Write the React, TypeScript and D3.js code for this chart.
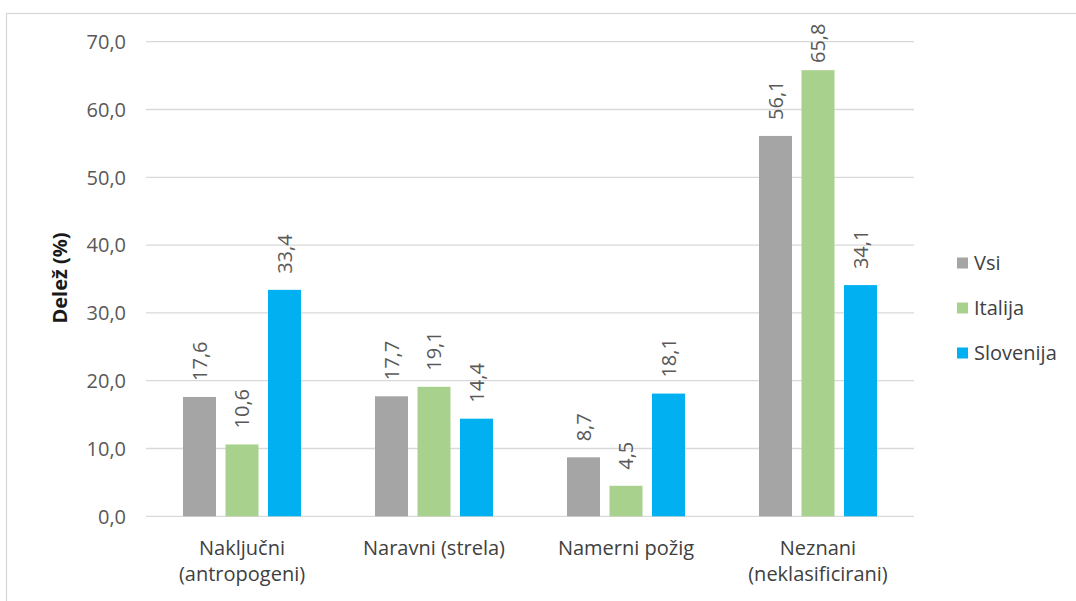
import React from "react";
import * as d3 from "d3";

// Deleži požarov po vzroku
const categories = ["Naključni (antropogeni)", "Naravni (strela)", "Namerni požig", "Neznani (neklasificirani)"];
const categoryLines = [["Naključni", "(antropogeni)"], ["Naravni (strela)"], ["Namerni požig"], ["Neznani", "(neklasificirani)"]];
const seriesNames = ["Vsi", "Italija", "Slovenija"];
const vsi = [17.6, 17.7, 8.7, 56.1];
const italija = [10.6, 19.1, 4.5, 65.8];
const slovenija = [33.4, 14.4, 18.1, 34.1];
const yTicks = [0, 10, 20, 30, 40, 50, 60, 70];
const colors = ["#A5A5A5", "#A9D18E", "#00B0F0"];

const W = 1076;
const H = 601;
const FONT = "'Open Sans', 'Noto Sans', sans-serif";

export default function App() {
  const values = [vsi, italija, slovenija];
  const plotLeft = 146;
  const plotRight = 914;
  const y = d3.scaleLinear().domain([0, 70]).range([516.3, 41.7]);
  const x0 = d3.scaleBand<string>().domain(categories).range([plotLeft, plotRight]).padding(0);
  const x1 = d3
    .scaleBand<string>()
    .domain(seriesNames)
    .range([0, x0.bandwidth()])
    .paddingInner(0.2235)
    .paddingOuter(0.8706);
  const fmt = (v: number) => d3.format(".1f")(v).replace(".", ",");

  return (
    <div style={{ position: "absolute", left: 0, top: 0 }}>
      <svg width={W} height={H} style={{ display: "block", fontFamily: FONT }}>
        <rect x={0} y={0} width={W} height={H} fill="#fff" />
        <rect x={6.5} y={13.5} width={W + 20} height={H + 20} fill="none" stroke="#D9D9D9" strokeWidth={1.3} />

        {yTicks.map((t) => (
          <g key={t}>
            <line x1={plotLeft} x2={plotRight} y1={y(t)} y2={y(t)} stroke="#D9D9D9" strokeWidth={1.3} />
            <text x={126} y={y(t)} dy="0.36em" textAnchor="end" fontSize={20} fill="#595959">
              {fmt(t)}
            </text>
          </g>
        ))}

        <text
          transform={`translate(60,278) rotate(-90)`}
          textAnchor="middle"
          dy="0.36em"
          fontSize={20}
          fontWeight="bold"
          fill="#1a1a1a"
        >
          Delež (%)
        </text>

        {categories.map((c, ci) => (
          <g key={c}>
            {seriesNames.map((s, si) => {
              const v = values[si][ci];
              const bx = (x0(c) as number) + (x1(s) as number);
              const top = y(v);
              const cx = bx + x1.bandwidth() / 2;
              // labels sit above the bar, kept inside the chart frame
              const ly = Math.max(top - 16, 63);
              return (
                <g key={s}>
                  <rect x={bx} y={top} width={x1.bandwidth()} height={y(0) - top} fill={colors[si]} />
                  <text
                    transform={`translate(${cx},${ly}) rotate(-90)`}
                    dy="0.36em"
                    textAnchor="start"
                    fontSize={20}
                    fill="#595959"
                  >
                    {fmt(v)}
                  </text>
                </g>
              );
            })}
            {categoryLines[ci].map((line, li) => (
              <text
                key={li}
                x={(x0(c) as number) + x0.bandwidth() / 2}
                y={555 + li * 26}
                textAnchor="middle"
                fontSize={20}
                fill="#404040"
              >
                {line}
              </text>
            ))}
          </g>
        ))}

        {seriesNames.map((s, si) => {
          const ly = 263 + si * 45;
          return (
            <g key={s}>
              <rect x={957} y={ly - 5.5} width={11} height={11} fill={colors[si]} />
              <text x={974} y={ly} dy="0.36em" fontSize={20} fill="#404040">
                {s}
              </text>
            </g>
          );
        })}
      </svg>
    </div>
  );
}
